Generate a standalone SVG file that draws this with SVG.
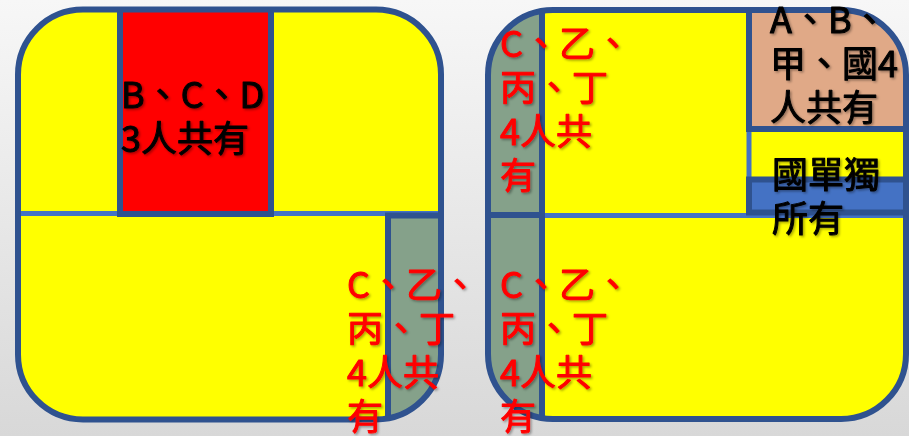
<svg xmlns="http://www.w3.org/2000/svg" width="909" height="436" viewBox="0 0 909 436">
  <defs>
    <linearGradient id="bg" x1="0" y1="0" x2="0" y2="1">
      <stop offset="0" stop-color="#f7f7f7"/>
      <stop offset="1" stop-color="#d8d8d8"/>
    </linearGradient>
    <clipPath id="clipL"><rect x="18" y="9.5" width="423" height="410" rx="65" ry="65"/></clipPath>
    <clipPath id="clipR"><rect x="488" y="10" width="418" height="409" rx="65" ry="65"/></clipPath>
    <filter id="sh" x="-10%" y="-10%" width="130%" height="130%">
      <feDropShadow dx="1.5" dy="1.5" stdDeviation="0.8" flood-color="#000" flood-opacity="0.35"/>
    </filter>
  </defs>
  <style>
    .dk { stroke: #2f528f; stroke-width: 6; }
    .lt { stroke: #4472c4; stroke-width: 5; }
    .outer { fill: none; stroke: #2f528f; stroke-width: 6; }
    .yel { fill: #ffff00; }
    .gry { fill: #85a18a; }
    .txt { font-family: "Noto Sans CJK TC", "Noto Sans CJK SC", sans-serif; font-size: 36px; filter: url(#sh); stroke-width: 1; stroke-linejoin: round; }
    .red { fill: #ff0000; stroke: #ff0000; }
    .blk { fill: #000000; stroke: #000000; }
  </style>
  <rect x="0" y="0" width="909" height="436" fill="url(#bg)"/>

  <g id="left-lot">
    <g clip-path="url(#clipL)">
      <rect class="yel" x="0" y="0" width="460" height="436"/>
      <line class="lt" x1="18" y1="213.5" x2="442" y2="213.5"/>
      <rect class="gry dk" x="388" y="215.5" width="70" height="230"/>
      <rect class="dk" fill="#ff0000" x="120" y="4" width="151" height="210"/>
    </g>
    <rect class="outer" x="18" y="9.5" width="423" height="410" rx="65" ry="65"/>
  </g>

  <g id="right-lot">
    <g clip-path="url(#clipR)">
      <rect class="yel" x="470" y="0" width="439" height="436"/>
      <rect class="gry dk" x="470" y="0" width="72" height="440"/>
      <line class="dk" x1="485" y1="215" x2="542" y2="215"/>
      <line class="lt" x1="545" y1="215.5" x2="909" y2="215.5"/>
      <rect class="yel lt" x="749" y="129" width="170" height="51"/>
      <rect class="dk" fill="#4472c4" x="749" y="179.5" width="170" height="33"/>
      <rect class="dk" fill="#e0a987" x="749" y="4" width="170" height="125"/>
    </g>
    <rect class="outer" x="488" y="10" width="418" height="409" rx="65" ry="65"/>
  </g>

  <g id="labels">
    <text class="txt blk" x="121" y="108">B、C、D</text>
    <text class="txt blk" x="121" y="152">3人共有</text>

    <text class="txt red" x="347" y="298">C、乙、</text>
    <text class="txt red" x="347" y="342">丙、丁</text>
    <text class="txt red" x="347" y="386">4人共</text>
    <text class="txt red" x="347" y="430">有</text>

    <text class="txt red" x="500" y="57">C、乙、</text>
    <text class="txt red" x="500" y="101">丙、丁</text>
    <text class="txt red" x="500" y="145">4人共</text>
    <text class="txt red" x="500" y="189">有</text>

    <text class="txt red" x="500" y="298">C、乙、</text>
    <text class="txt red" x="500" y="342">丙、丁</text>
    <text class="txt red" x="500" y="386">4人共</text>
    <text class="txt red" x="500" y="430">有</text>

    <text class="txt blk" x="770" y="33">A、B、</text>
    <text class="txt blk" x="770" y="77">甲、國4</text>
    <text class="txt blk" x="770" y="121">人共有</text>

    <text class="txt blk" x="772" y="188">國單獨</text>
    <text class="txt blk" x="772" y="232">所有</text>
  </g>
</svg>
